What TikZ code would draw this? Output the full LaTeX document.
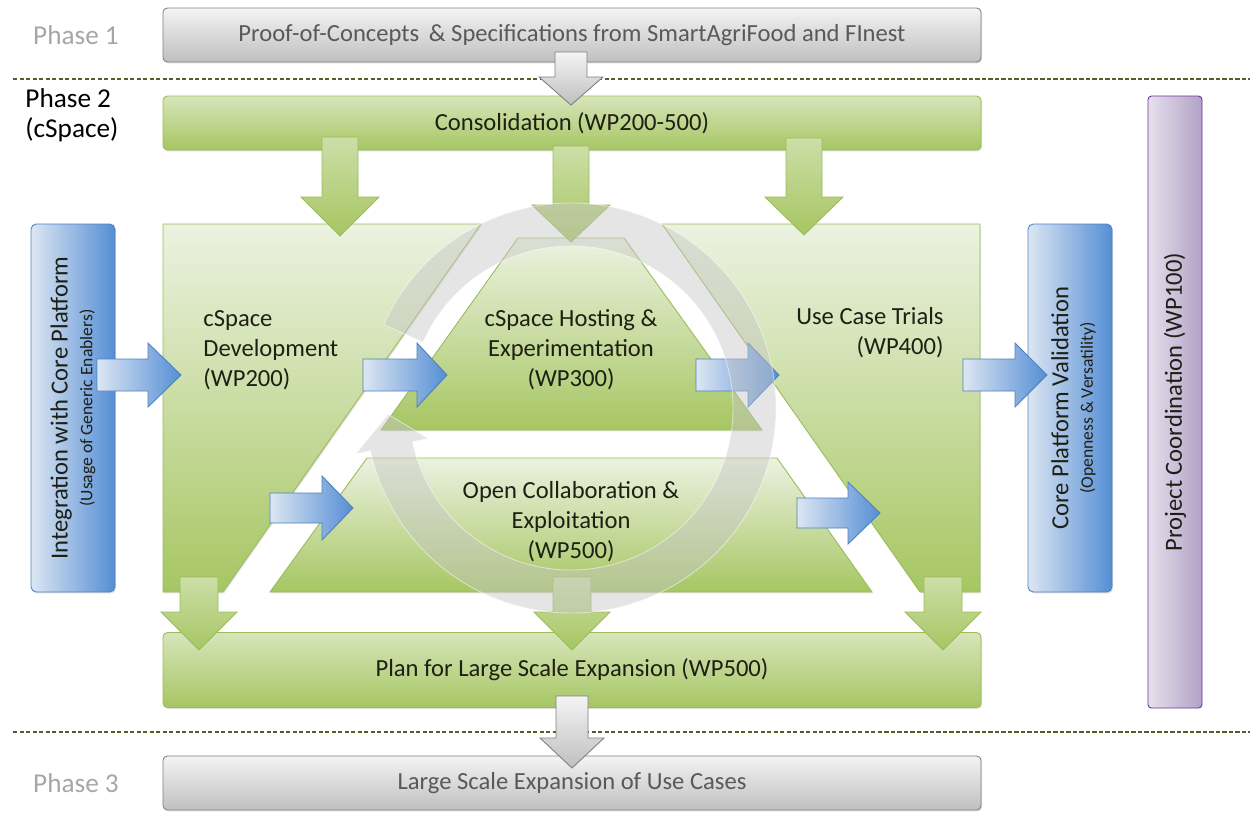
\documentclass[tikz,border=0pt]{standalone}
\usepackage{fontspec}
\setmainfont{Carlito}
\usepackage{xcolor}
\usetikzlibrary{calc}
\usetikzlibrary{positioning}
\usetikzlibrary{shadows}

\definecolor{grnTop}{RGB}{236,242,225}
\definecolor{grnBot}{RGB}{166,198,98}
\definecolor{grnLine}{RGB}{155,187,89}
\definecolor{bluL}{RGB}{220,230,242}
\definecolor{bluR}{RGB}{85,142,213}
\definecolor{bluLine}{RGB}{79,129,189}
\definecolor{purL}{RGB}{230,224,236}
\definecolor{purR}{RGB}{178,161,199}
\definecolor{purLine}{RGB}{112,48,160}
\definecolor{gryTop}{RGB}{244,244,244}
\definecolor{gryBot}{RGB}{191,191,191}
\definecolor{gryLine}{RGB}{128,128,128}
\definecolor{gryText}{RGB}{89,89,89}
\definecolor{phaseGray}{RGB}{166,166,166}
\definecolor{dashGreen}{RGB}{79,98,40}
\definecolor{txtDark}{RGB}{30,32,20}

% block arrows: style, x, y top, y neck, y tip, half shaft, half head
\newcommand{\downblock}[7]{\path[#1] (#2-#6,#3) -- (#2+#6,#3) -- (#2+#6,#4) -- (#2+#7,#4) -- (#2,#5) -- (#2-#7,#4) -- (#2-#6,#4) -- cycle;}
% style, x start, x neck, x tip, y, half shaft, half head
\newcommand{\rightblock}[7]{\path[#1] (#2,#5-#6) -- (#3,#5-#6) -- (#3,#5-#7) -- (#4,#5) -- (#3,#5+#7) -- (#3,#5+#6) -- (#2,#5+#6) -- cycle;}

\begin{document}
\begin{tikzpicture}[x=0.02cm, y=-0.02cm, line width=0.5pt, font=\fontsize{14}{17}\selectfont]
  \tikzstyle{graybox}=[draw=gryLine, top color=gryTop, bottom color=gryBot, rounded corners=2.5pt, text=gryText, minimum width=818*0.02cm, minimum height=54*0.02cm, inner sep=0pt, drop shadow={opacity=0.25, shadow xshift=0.6pt, shadow yshift=-0.8pt}]
  \tikzstyle{greenbox}=[draw=grnLine, top color=grnTop!70!grnBot, bottom color=grnBot, rounded corners=2.5pt, text=txtDark, minimum width=818*0.02cm, inner sep=0pt, drop shadow={opacity=0.25, shadow xshift=0.6pt, shadow yshift=-0.8pt}]
  \tikzstyle{greenshape}=[draw=grnLine, top color=grnTop, bottom color=grnBot, drop shadow={opacity=0.2, shadow xshift=0.6pt, shadow yshift=-0.8pt}]
  \tikzstyle{bluebox}=[draw=bluLine, left color=bluL, right color=bluR, rounded corners=3pt, minimum width=84*0.02cm, minimum height=368*0.02cm, drop shadow={opacity=0.25, shadow xshift=0.6pt, shadow yshift=-0.8pt}]
  \tikzstyle{purplebox}=[draw=purLine, left color=purL, right color=purR, rounded corners=2pt, minimum width=54*0.02cm, minimum height=612*0.02cm]
  \tikzstyle{greenarrow}=[draw=grnLine, top color=grnTop!55!grnBot, bottom color=grnBot]
  \tikzstyle{grayarrow}=[draw=gryLine, top color=gryTop, bottom color=gryBot]
  \tikzstyle{bluearrow}=[draw=bluLine, left color=bluL, right color=bluR]
  \tikzstyle{phase}=[text=phaseGray, font=\fontsize{15.5}{19}\selectfont]
  \tikzstyle{wplabel}=[text=txtDark, inner sep=0pt]
  \tikzstyle{dashline}=[dashGreen, line width=0.8pt, dash pattern=on 2.5pt off 1.2pt]
  \tikzstyle{ring}=[fill=gray!45, fill opacity=0.45, draw=white, draw opacity=0.5]

  \useasboundingbox (0,0) rectangle (1250,812);

  % phases
  \node[phase] (ph1) at (76,35) {Phase 1};
  \node[align=left, anchor=west, inner sep=0pt, font=\fontsize{15.5}{17}\selectfont] (ph2) at (25,115) {Phase 2\\(cSpace)};
  \node[phase] (ph3) at (76,783) {Phase 3};
  \draw[dashline] (13,79) -- (1250,79);
  \draw[dashline] (13,732) -- (1250,732);

  % boxes
  \node[graybox] (poc) at (572,35) {Proof-of-Concepts \,\& Specifications from SmartAgriFood and FInest};
  \node[greenbox, minimum height=54*0.02cm] (cons) at (572,123) {Consolidation (WP200-500)};
  \node[greenbox, minimum height=75*0.02cm] (plan) at (572,670) {Plan for Large Scale Expansion (WP500)};
  \node[graybox] (lsx) at (572,783) {Large Scale Expansion of Use Cases};
  \node[bluebox] (integ) at (73,408) {};
  \node[bluebox] (valid) at (1070,408) {};
  \node[purplebox] (coord) at (1175,402) {};

  % work package shapes
  \path[greenshape] (163,224) -- (481,224) -- (223,592) -- (163,592) -- cycle;
  \path[greenshape] (662,224) -- (980,224) -- (980,592) -- (920,592) -- cycle;
  \path[greenshape] (381,430) -- (518,238) -- (624,238) -- (762,430) -- cycle;
  \path[greenshape] (270,592) -- (367,458) -- (777,458) -- (872,592) -- cycle;

  % flow arrows
  \downblock{grayarrow}{571}{52}{77}{105}{16}{32}
  \foreach \cx/\ys/\yn/\yt in {340/137/197/236, 571/146/205/242, 804/138/197/235}{
    \downblock{greenarrow}{\cx}{\ys}{\yn}{\yt}{18}{39}
  }
  \foreach \cx in {199,572,943}{
    \downblock{greenarrow}{\cx}{577}{612}{650}{19}{38}
  }
  \downblock{grayarrow}{572}{696}{738}{768}{16}{32}
  \foreach \xs/\xn/\xt/\yc in {97/148/181/375, 363/417/447/375, 696/748/779/375, 963/1015/1047/375}{
    \rightblock{bluearrow}{\xs}{\xn}{\xt}{\yc}{16}{32}
  }
  \rightblock{bluearrow}{270}{322}{353}{508}{15}{32}
  \rightblock{bluearrow}{797}{848}{880}{513}{15}{31}

  % cycle ring
  \begin{scope}[shift={(571,408)}]
    \path[ring] (204:205) arc[start angle=204, end angle=528, radius=205] -- (528:220) -- (538:183) -- (528:146) -- (528:162) arc[start angle=528, end angle=204, radius=162] -- cycle;
  \end{scope}

  % labels
  \node[wplabel, anchor=west, align=left] (dev) at (203,350) {cSpace\\Development\\(WP200)};
  \node[wplabel, align=center] (host) at (571,350) {cSpace Hosting \&\\Experimentation\\(WP300)};
  \node[wplabel, anchor=east, align=right] (trial) at (944,333) {Use Case Trials\\(WP400)};
  \node[wplabel, align=center] (collab) at (571,522) {Open Collaboration \&\\Exploitation\\(WP500)};
  \node[wplabel, rotate=90, align=center] (integtxt) at (integ.center) {Integration with Core Platform\\[-3pt]{\fontsize{10}{12}\selectfont (Usage of Generic Enablers)}};
  \node[wplabel, rotate=90, align=center] (validtxt) at ([xshift=2pt]valid.center) {Core Platform Validation\\[-3pt]{\fontsize{10}{12}\selectfont (Openness \& Versatility)}};
  \node[wplabel, rotate=90] (coordtxt) at (coord.center) {Project Coordination (WP100)};
\end{tikzpicture}
\end{document}
